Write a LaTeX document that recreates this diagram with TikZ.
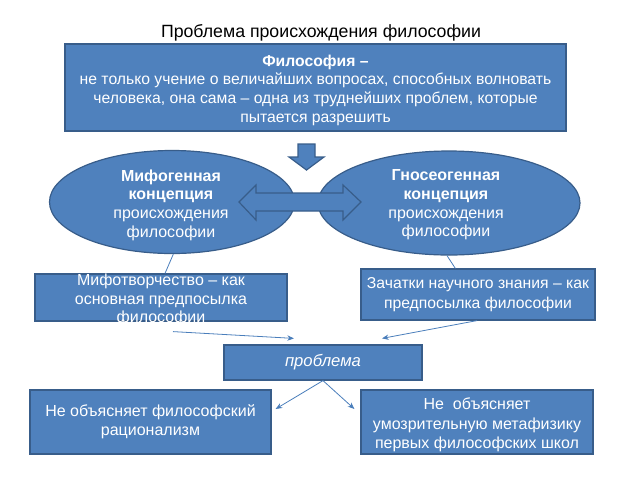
\documentclass[tikz,border=0pt]{standalone}
\usepackage{fontspec}
\setmainfont{Liberation Sans}
\usetikzlibrary{arrows.meta,calc,shapes.geometric}
\definecolor{boxfill}{HTML}{4F81BD}
\definecolor{boxline}{HTML}{385D8A}
\definecolor{conn}{HTML}{4A7EBB}
\begin{document}
\begin{tikzpicture}[x=0.75pt,y=-0.75pt,
  box/.style={draw=boxline, fill=boxfill, line width=0.9pt, text=white, align=center, inner sep=0pt,
    font=\fontsize{12}{14.5}\selectfont},
  btext/.style={text=white, align=center, inner sep=0pt},
  ell/.style={draw=boxline, fill=boxfill, line width=0.9pt, ellipse, inner sep=0pt},
  etext/.style={text=white, align=center, font=\fontsize{12}{14}\selectfont},
  blockarrow/.style={draw=boxline, fill=boxfill, line width=0.9pt, line join=miter},
  conline/.style={draw=conn, line width=0.6pt},
  conarrow/.style={draw=conn, line width=0.6pt, -{Stealth[length=5pt,width=4pt]}}]
\useasboundingbox (0,0) rectangle (640,480);

\node[font=\fontsize{13.3}{16}\selectfont] (title) at (321,33) {Проблема происхождения философии};

\node[box, minimum width=375.75pt, minimum height=65.25pt] (top) at (315.5,87.5) {};
\node[btext, font=\fontsize{11.8}{14}\selectfont] (toptext) at (315.5,90)
  {\textbf{Философия –}\\не только учение о величайших вопросах, способных волновать\\человека, она сама – одна из труднейших проблем, которые\\пытается разрешить};

% down block arrow
\draw[blockarrow] (298,144) -- (315,144) -- (315,157) -- (324,157) -- (306.5,170) -- (289,157) -- (298,157) -- cycle;

% ellipses
\node[ell, minimum width=183.75pt, minimum height=77.25pt] (mif) at (172,202) {};
\node[ell, minimum width=196.5pt, minimum height=78pt] (gno) at (449,203) {};

% double block arrow
\draw[blockarrow] (239,202) -- (256,185) -- (256,193) -- (343,193) -- (343,185) -- (361,202) -- (343,220) -- (343,211) -- (256,211) -- (256,220) -- cycle;

\node[etext] (miftext) at (171,205) {\textbf{Мифогенная}\\\textbf{концепция}\\происхождения\\философии};
\node[etext] (gnotext) at (446,205) {\textbf{Гносеогенная}\\\textbf{концепция}\\происхождения\\философии};

% second row boxes
\node[box, minimum width=189pt, minimum height=35.25pt] (mifbox) at (161,297.5) {};
\node[btext, font=\fontsize{12}{13.8}\selectfont] (miftxt) at (161,300)
  {Мифотворчество – как\\основная предпосылка\\философии};
\node[box, minimum width=175.5pt, minimum height=38.25pt, font=\fontsize{11.8}{15}\selectfont] (gnobox) at (478,294.5)
  {Зачатки научного знания – как\\предпосылка философии};

% problem box
\node[box, minimum width=148.5pt, minimum height=26.25pt, font=\fontsize{12.5}{15}\selectfont] (prob) at (323,362.5) {\textit{проблема}};

% bottom boxes
\node[box, minimum width=180.75pt, minimum height=48pt] (bl) at (150.5,422) {Не объясняет философский\\рационализм};
\node[box, minimum width=174pt, minimum height=48pt] (br) at (477,422) {};
\node[btext, font=\fontsize{12}{14.5}\selectfont] (brtext) at (477,425) {Не~ объясняет\\умозрительную метафизику\\первых философских школ};

% connectors
\draw[conline] ([xshift=1pt]mif.south) -- ([xshift=3pt]mifbox.north);
\draw[conline] ([xshift=-1.5pt]gno.south) -- ([xshift=-17pt]gnobox.north);
\coordinate (pl) at ([shift={(-29,-6)}]prob.north);
\coordinate (pr) at ([shift={(59,-6)}]prob.north);
\draw[conarrow] ([shift={(12,10)}]mifbox.south) -- (pl);
\draw[conarrow] ([shift={(-1,0)}]gnobox.south) -- (pr);
\coordinate (al) at ([shift={(4,-13)}]bl.east);
\coordinate (ar) at ([shift={(-6,-13)}]br.west);
\draw[conarrow] (prob.south) -- (al);
\draw[conarrow] (prob.south) -- (ar);
\end{tikzpicture}
\end{document}
